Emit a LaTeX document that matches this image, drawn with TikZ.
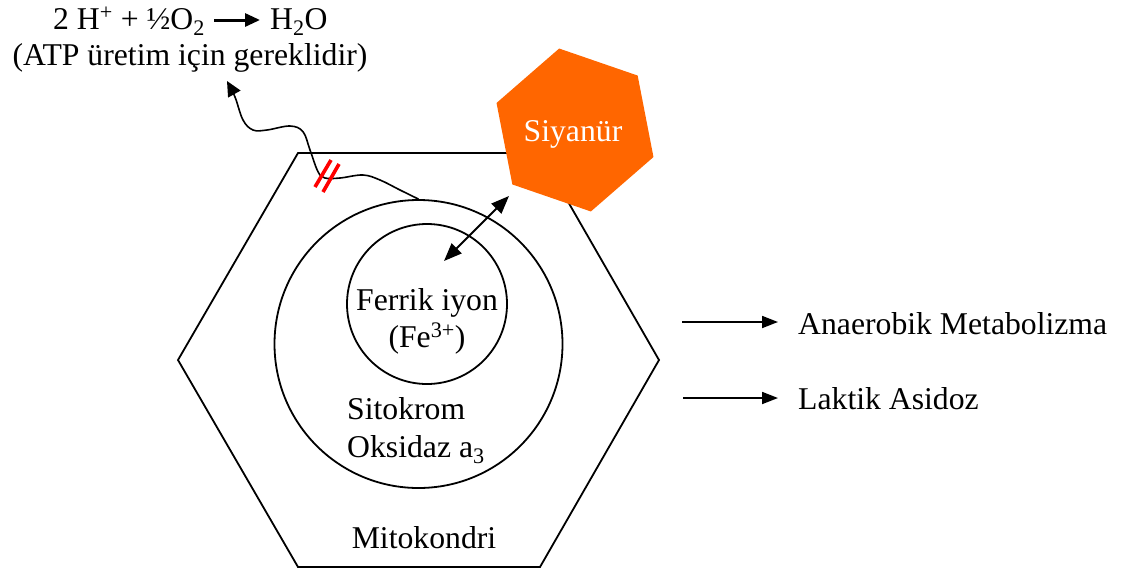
\documentclass[tikz,border=0pt]{standalone}
\usepackage{fontspec}
\setmainfont{Liberation Serif}
\usetikzlibrary{arrows.meta,calc}
\definecolor{cyanide}{HTML}{FF6600}
\definecolor{cutred}{HTML}{FF0000}
\begin{document}
\begin{tikzpicture}[x=1pt,y=-1pt,
  lbl/.style={inner sep=0pt, font=\fontsize{31.7pt}{36pt}\selectfont},
  outline/.style={draw=black, line width=1.8pt},
  arr/.style={line width=1.8pt, -{Triangle[length=16pt,width=12pt]}},
  eqarr/.style={line width=3pt, -{Triangle[length=15pt,width=13pt]}},
  dblarr/.style={line width=1.8pt, {Triangle[length=18pt,width=14pt]}-{Triangle[length=18pt,width=14pt]}},
  wave/.style={line width=1.6pt, -{Triangle[length=15pt,width=14pt]}},
  cut/.style={draw=cutred, line width=3.6pt}
]
\useasboundingbox (0,0) rectangle (1121,571);

% reaction at the top
\node[lbl, anchor=base west] (lhs) at (53,29) {2 H\textsuperscript{+} + ½O\textsubscript{2}};
\node[lbl, anchor=base west] (rhs) at (270,29) {H\textsubscript{2}O};
\draw[eqarr] ([xshift=9pt,yshift=9pt]lhs.base east) -- ([xshift=-10pt,yshift=9pt]rhs.base west);
\node[lbl, anchor=base] (atp) at (190,65) {(ATP üretim için gereklidir)};

% mitochondrion
\draw[outline, line join=miter] (298,153) -- (540,153) -- (659,360) -- (540,567) -- (298,567) -- (178,360) -- cycle;
\node[lbl, anchor=base] (mito) at (424,548) {Mitokondri};

% cytochrome oxidase a3 and its ferric ion
\node[circle, outline, minimum size=288pt, inner sep=0pt] (cyto) at (418.5,344) {};
\node[circle, outline, minimum size=160pt, inner sep=0pt] (ferric) at (427,304) {};
\node[lbl, anchor=base] (fe1) at (427,310) {Ferrik iyon};
\node[lbl, anchor=base] (fe2) at (427,347) {(Fe\textsuperscript{3+})};
\node[lbl, anchor=base west] (cyt1) at (347,419) {Sitokrom};
\node[lbl, anchor=base west] (cyt2) at (347,457) {Oksidaz a\textsubscript{3}};

% cyanide
\coordinate (cn) at (575,130);
\fill[cyanide] ($(cn)+(19:83)$) -- ($(cn)+(79:83)$) -- ($(cn)+(139:83)$)
  -- ($(cn)+(199:83)$) -- ($(cn)+(259:83)$) -- ($(cn)+(319:83)$) -- cycle;
\node[lbl, anchor=base, text=white] (siyanur) at (573,141) {Siyanür};

% binding of cyanide to Fe3+
\coordinate (feend) at (444,261);
\coordinate (cnend) at (509,196);
\draw[dblarr] (feend) -- (cnend);

% blocked electron transfer to oxygen
\coordinate (wavetip) at (227,81);
\draw[wave] plot[smooth, tension=0.6] coordinates {(cyto.north) (400,190) (380,180) (363,175)
  (340,178) (325,178) (318,171.7) (310,150) (303,131.7) (290,126) (267,130) (253,130)
  (243,120) (235,97) (wavetip)};
\draw[cut] (315,187) -- (331,160);
\draw[cut] (323,192) -- (339,164);

% consequences
\node[lbl, anchor=base west] (anaer) at (798,334) {Anaerobik Metabolizma};
\node[lbl, anchor=base west] (lact) at (798,409) {Laktik Asidoz};
\coordinate (r1) at (682,322);
\coordinate (r2) at (683,398);
\draw[arr, shorten >=20pt] (r1) -- (r1 -| anaer.west);
\draw[arr, shorten >=20pt] (r2) -- (r2 -| lact.west);
\end{tikzpicture}
\end{document}
